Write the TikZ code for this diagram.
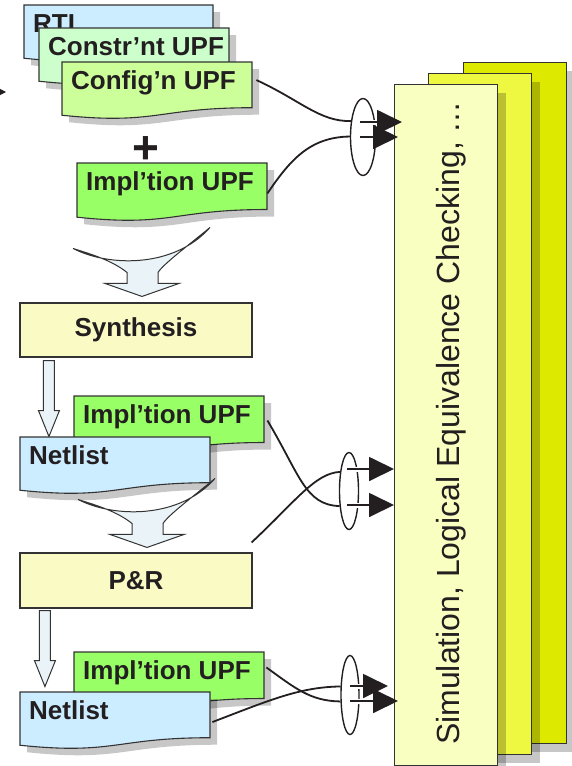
\documentclass[tikz,border=0pt]{standalone}
\usepackage{fontspec}
\setmainfont{Liberation Sans}
\usetikzlibrary{shapes.geometric,arrows.meta,calc,shadows}

\definecolor{ink}{HTML}{231F20}
\definecolor{edge}{HTML}{333333}
\definecolor{rtlblue}{HTML}{CCECFF}
\definecolor{cstgreen}{HTML}{CCFFCC}
\definecolor{cfggreen}{HTML}{CCFF99}
\definecolor{implgreen}{HTML}{99FF66}
\definecolor{stepyellow}{HTML}{FAFBC4}
\definecolor{simfront}{HTML}{F9FFC0}
\definecolor{simmid}{HTML}{EEF840}
\definecolor{simback}{HTML}{DDEA00}
\definecolor{flowfill}{HTML}{EAF4F8}

\tikzset{
  outline/.style={draw=edge, line width=1.1pt},
  castshadow/.style={fill=black, fill opacity=0.22},
  boxlabel/.style={text=ink, font=\bfseries\fontsize{26}{30}\selectfont, inner sep=0},
  stepbox/.style={outline, fill=stepyellow, minimum width=232, minimum height=54,
    inner sep=0, text=ink, font=\bfseries\fontsize{26}{30}\selectfont},
  simsheet/.style={outline, minimum width=103, minimum height=681, inner sep=0,
    anchor=north west,
    drop shadow={shadow xshift=8pt, shadow yshift=-8pt, fill=black, opacity=0.22}},
  wire/.style={draw=ink, line width=1.8pt},
  feed/.style={wire, -{Triangle[length=25pt,width=24pt]},
    preaction={draw=white, line width=5pt, -, shorten >=22pt}},
  ring/.style={ellipse, draw=ink, line width=1.4pt, inner sep=0},
  blockarrow/.style={draw=edge, line width=1pt, fill=flowfill, line join=miter},
}

% document sheet with wavy lower edge and a cast shadow
% #1 name, #2 left, #3 top, #4 width, #5 nominal height, #6 fill, #7 label
\newcommand\docsheet[7]{%
  \pgfmathsetmacro\dsR{#3+0.802*#5}%
  \pgfmathsetmacro\dsL{#3+0.934*#5}%
  \pgfmathsetmacro\dsC{#3+1.107*#5}%
  \pgfmathsetmacro\dsM{#2+0.5*#4}%
  \pgfmathsetmacro\dsX{#2+#4}%
  \fill[castshadow, shift={(7,7)}] (#2,#3) -- (\dsX,#3) -- (\dsX,\dsR)
    .. controls (\dsM,\dsR) and (\dsM,\dsC) .. (#2,\dsL) -- cycle;
  \filldraw[outline, fill=#6] (#2,#3) -- (\dsX,#3) -- (\dsX,\dsR)
    .. controls (\dsM,\dsR) and (\dsM,\dsC) .. (#2,\dsL) -- cycle;
  \node[inner sep=0, minimum width=#4, minimum height=0.802*#5, anchor=north west] (#1) at (#2,#3) {};
  \node[boxlabel, anchor=base west] (#1-text) at (#2+9,#3+27) {#7};
}

% curved funnel arrow, tip at the origin of the current scope
\newcommand\funnelarrow{%
  \draw[blockarrow] (-69,-48) .. controls (-32,-29) and (33,-29) .. (68,-69)
    .. controls (45,-50) and (22,-33) .. (16,-24) -- (16,-13) -- (37,-13) -- (0,0)
    -- (-37,-13) -- (-15,-13) -- (-15,-24)
    .. controls (-30,-36) and (-50,-42) .. (-69,-48) -- cycle;
}

% straight downward block arrow, shaft top centre at the origin
\newcommand\droparrow{%
  \draw[blockarrow] (-5.5,0) -- (5.5,0) -- (5.5,50) -- (10.5,50) -- (0,76)
    -- (-10.5,50) -- (-5.5,50) -- cycle;
}

\begin{document}
\begin{tikzpicture}[x=1pt, y=-1pt]
\useasboundingbox (0,0) rectangle (571,766);

% ---- stacked verification sheets ----
\node[simsheet, fill=simback] (sim3) at (463,62) {};
\node[simsheet, fill=simmid] (sim2) at (428,73) {};
\node[simsheet, fill=simfront] (sim1) at (394,84) {};
\node[rotate=90, anchor=base, text=ink, inner sep=0, font=\fontsize{32}{36}\selectfont]
  (simtext) at (459,423) {Simulation, Logical Equivalence Checking, …};

% ---- incoming edge at the far left ----
\coordinate (offl) at (-8,92);
\coordinate (offr) at (6,92);
\draw[wire, line width=1pt, -{Triangle[length=6pt,width=6pt]}] (offl) -- (offr);

% ---- source files ----
\docsheet{rtl}{24}{5}{189}{57}{rtlblue}{RTL}
\docsheet{cst}{39}{28}{190}{57}{cstgreen}{Constr’nt UPF}
\docsheet{cfg}{62}{62}{190}{57}{cfggreen}{Config’n UPF}
\node[text=ink, inner sep=0, font=\bfseries\fontsize{46}{46}\selectfont] (plus) at (146,150) {+};
\docsheet{impla}{77}{163}{190}{58}{implgreen}{Impl’tion UPF}

% ---- synthesis ----
\node[stepbox] (syn) at (136,330) {Synthesis};
\coordinate (fa) at ($(syn.north)+(6,-6)$);
\begin{scope}[shift={(fa)}]\funnelarrow\end{scope}

\coordinate (da) at ($(syn.south west)+(29.5,3)$);
\begin{scope}[shift={(da)}]\droparrow\end{scope}

\docsheet{implb}{74}{396}{190}{58}{implgreen}{Impl’tion UPF}
\docsheet{netb}{20}{437}{190}{57}{rtlblue}{Netlist}

% ---- place & route ----
\node[stepbox, minimum height=55] (pr) at (136,580.5) {P\&R};
\coordinate (fb) at ($(pr.north)+(11,-5)$);
\begin{scope}[shift={(fb)}]\funnelarrow\end{scope}

\coordinate (db) at ($(pr.south west)+(25.5,2)$);
\begin{scope}[shift={(db)}]\droparrow\end{scope}

\docsheet{implc}{74}{652}{190}{58}{implgreen}{Impl’tion UPF}
\docsheet{netc}{20}{692}{190}{57}{rtlblue}{Netlist}

% ---- bundling rings ----
\node[ring, minimum width=25, minimum height=77] (ring1) at (363,137) {};
\node[ring, minimum width=19, minimum height=77] (ring2) at (349,491) {};
\node[ring, minimum width=18, minimum height=79] (ring3) at (350,695) {};

% first bundle
\draw[wire] ([shift={(4,-5)}]cfg.east) .. controls (300,100) and (320,122) .. (ring1.127);
\draw[wire] ([shift={(0,7)}]impla.east) .. controls (290,160) and (310,137) .. (ring1.178);
\coordinate (r1u) at ($(ring1.center)+(-3,-15)$);
\coordinate (r1l) at ($(ring1.center)+(-3,0)$);
\draw[feed] (r1u) -- ($(sim1.west |- r1u)+(8,0)$);
\draw[feed] (r1l) -- ($(sim1.west |- r1l)+(4,0)$);

% second bundle
\coordinate (prout) at ($(pr.north east)+(-1,-10)$);
\draw[wire] ([shift={(3,1)}]implb.east) .. controls (300,475) and (305,505) .. (ring2.238);
\draw[wire] (prout) .. controls (295,502) and (315,473) .. (ring2.115);
\coordinate (r2u) at ($(ring2.center)+(-2,-22)$);
\coordinate (r2l) at ($(ring2.center)+(-2,14)$);
\draw[feed] (r2u) -- (sim1.west |- r2u);
\draw[feed] (r2l) -- (sim1.west |- r2l);

% third bundle
\draw[wire] ([shift={(2,7)}]netc.east) .. controls (270,700) and (300,687) .. (ring3.138);
\draw[wire] ([shift={(2,-8)}]implc.east) .. controls (295,688) and (310,701) .. (ring3.214);
\coordinate (r3u) at ($(ring3.center)+(0,-9)$);
\coordinate (r3l) at ($(ring3.center)+(0,6)$);
\draw[feed] (r3u) -- ($(sim1.west |- r3u)+(-6,0)$);
\draw[feed] (r3l) -- ($(sim1.west |- r3l)+(4,0)$);
\end{tikzpicture}
\end{document}
